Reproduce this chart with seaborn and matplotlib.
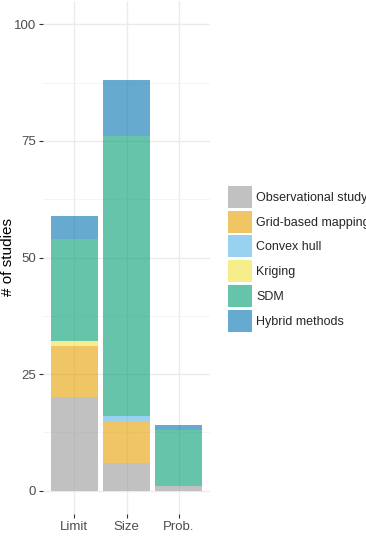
import matplotlib
matplotlib.use("Agg")
import matplotlib.pyplot as plt
from matplotlib.patches import Patch
import seaborn as sns
import pandas as pd

# data
categories = ["Limit", "Size", "Prob."]
methods = ["Observational study", "Grid-based mapping", "Convex hull",
           "Kriging", "SDM", "Hybrid methods"]
observational = [20, 6, 1]
grid_based = [11, 9, 0]
convex_hull = [0, 1, 0]
kriging = [1, 0, 0]
sdm = [22, 60, 12]
hybrid = [5, 12, 1]

colors = ["#999999", "#E69F00", "#56B4E9", "#F0E442", "#009E73", "#0072B2"]

counts = [observational, grid_based, convex_hull, kriging, sdm, hybrid]
rows = []
for m, vals in zip(methods, counts):
    for c, v in zip(categories, vals):
        rows.append({"type": c, "method": m, "n": v})
df = pd.DataFrame(rows)

sns.set_style("whitegrid")
plt.rcParams["font.family"] = ["Liberation Sans", "DejaVu Sans"]

fig = plt.figure(figsize=(3.66, 5.46), dpi=100)
ax = fig.add_axes([43 / 366, 32 / 546, 167 / 366, 513 / 546])

sns.histplot(data=df, x="type", weights="n", hue="method",
             hue_order=methods[::-1], palette=dict(zip(methods, colors)),
             multiple="stack", discrete=True, shrink=0.9, alpha=0.6,
             linewidth=0, legend=False, ax=ax)

ax.set_xlim(-0.6, 2.6)
ax.set_ylim(-5, 105)
ax.set_yticks([0, 25, 50, 75, 100])
ax.set_yticks([12.5, 37.5, 62.5, 87.5], minor=True)
ax.set_xticks([0, 1, 2])
ax.set_xticklabels(categories)
ax.set_xlabel("")
ax.set_ylabel("# of studies", fontsize=11, color="black")
ax.yaxis.set_label_coords(-0.165, 0.5)
ax.set_axisbelow(True)
ax.grid(which="major", color="#EBEBEB", linewidth=1.0)
ax.grid(which="minor", axis="y", color="#F2F2F2", linewidth=0.6)
for s in ax.spines.values():
    s.set_visible(False)
ax.tick_params(axis="both", which="major", length=3, width=0.8, color="#333333",
               labelsize=9.5, labelcolor="#4D4D4D", pad=2, left=True, bottom=True)
ax.tick_params(axis="both", which="minor", length=0)

handles = [Patch(facecolor=c, alpha=0.6, edgecolor="none") for c in colors]
fig.legend(handles, methods, loc="upper left", bbox_to_anchor=(228 / 366, 1 - 186 / 546),
           frameon=False, fontsize=9, handlelength=1.9, handleheight=2.33,
           labelspacing=0.22, handletextpad=0.35, borderpad=0, borderaxespad=0)

fig.savefig("out.png", dpi=100)
